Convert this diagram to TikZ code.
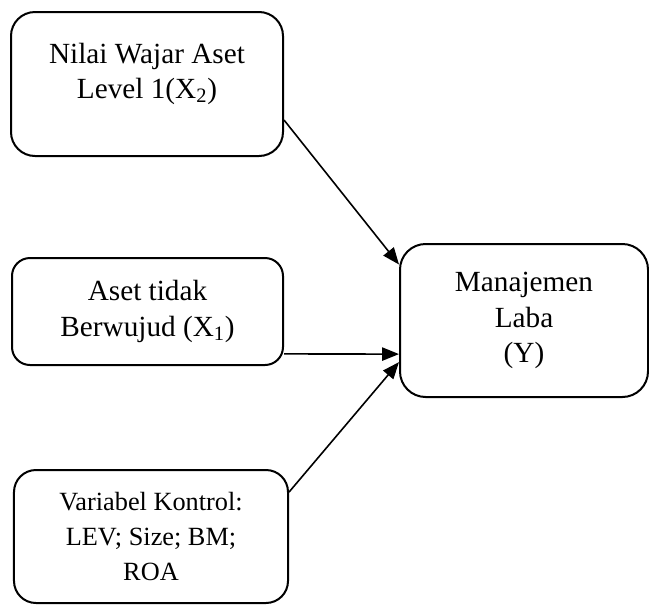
\documentclass[tikz,border=0pt]{standalone}
\usepackage{fontspec}
\setmainfont{Liberation Serif}
\usetikzlibrary{arrows.meta,calc}

\begin{document}
\begin{tikzpicture}[
    box/.style={draw, line width=0.05cm, align=center, font=\fontsize{20.8}{25}\selectfont},
    arr/.style={-{Triangle[length=0.42cm,width=0.33cm]}, line width=0.04cm}
]
    \useasboundingbox (0,0) rectangle (16.225,-15.15);

    % Independent variables
    \node[box, rounded corners=0.6cm, minimum width=6.8cm, minimum height=3.6cm] (x2) at (3.675,-2.1) {Nilai Wajar Aset\\Level 1(X\textsubscript{2})\\[-0.2cm]\mbox{}};
    \node[box, rounded corners=0.45cm, minimum width=6.775cm, minimum height=2.675cm] (x1) at (3.6875,-7.7875) {Aset tidak\\Berwujud (X\textsubscript{1})};

    % Control variables
    \node[box, rounded corners=0.55cm, minimum width=6.85cm, minimum height=3.325cm, font=\fontsize{18.7}{25}\selectfont] (kontrol) at (3.775,-13.4125) {Variabel Kontrol:\\LEV; Size; BM;\\ROA};

    % Dependent variable
    \node[box, rounded corners=0.64cm, minimum width=6.2cm, minimum height=3.825cm] (y) at (13.1,-8.0125) {Manajemen\\Laba\\(Y)};

    % Arrows
    \draw[arr] ([yshift=-0.9cm]x2.east) -- ([yshift=1.4cm]y.west);
    \draw[arr] ([yshift=-1.06cm]x1.east) -- ([yshift=-0.84cm]y.west);
    \draw[arr] ([yshift=1.11cm]kontrol.east) -- ([yshift=-1.04cm]y.west);
\end{tikzpicture}
\end{document}
